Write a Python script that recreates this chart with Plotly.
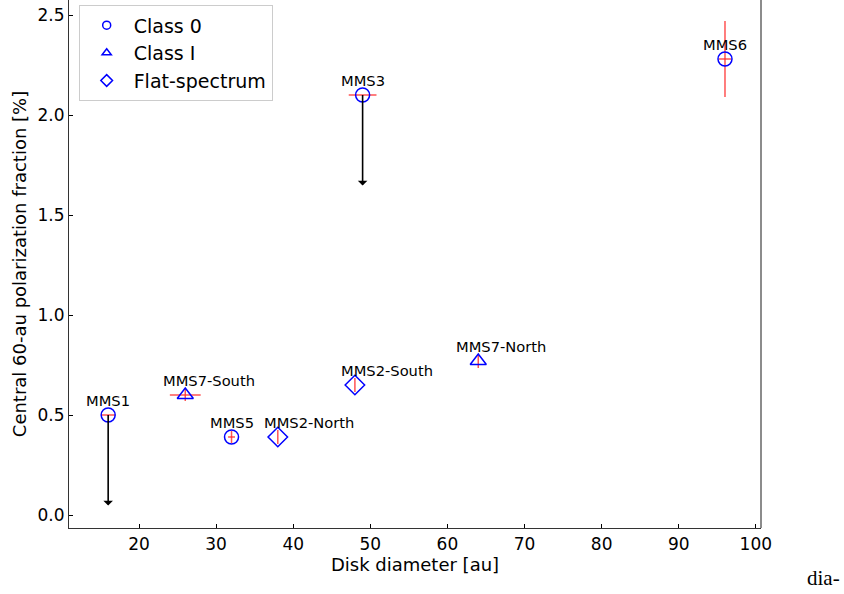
import plotly.graph_objects as go

# ---- data ----
names = ["MMS1", "MMS7-South", "MMS5", "MMS2-North", "MMS2-South", "MMS7-North", "MMS3", "MMS6"]
classes = ["Class 0", "Class I", "Class 0", "Flat-spectrum", "Flat-spectrum", "Class I", "Class 0", "Class 0"]
diameter = [16, 26, 32, 38, 48, 64, 49, 96]
diameter_err = [0.9, 2.0, 0.45, 0.0, 0.0, 0.0, 1.8, 0.8]
pol_frac = [0.50, 0.60, 0.39, 0.39, 0.65, 0.77, 2.10, 2.28]
pol_err = [0.0, 0.03, 0.03, 0.035, 0.035, 0.035, 0.0, 0.19]
upper_limit = [True, False, False, False, False, False, True, False]
label_xshift = [0, 24, 0, 31, 32, 23, 0, 0]

symbol_of = {"Class 0": "circle-open", "Class I": "triangle-up-open", "Flat-spectrum": "diamond-open"}
size_of = {"Class 0": 14, "Class I": 14, "Flat-spectrum": 15}
legend_size_of = {"Class 0": 8, "Class I": 8, "Flat-spectrum": 9}

fig = go.Figure()

for cls in ["Class 0", "Class I", "Flat-spectrum"]:
    idx = [i for i, c in enumerate(classes) if c == cls]
    fig.add_trace(go.Scatter(
        x=[diameter[i] for i in idx],
        y=[pol_frac[i] for i in idx],
        mode="markers",
        marker=dict(symbol=symbol_of[cls], size=size_of[cls], color="blue", line=dict(width=1.5, color="blue")),
        error_y=dict(type="data", array=[pol_err[i] for i in idx], color="rgba(255,40,40,0.8)", thickness=1.5, width=0),
        error_x=dict(type="data", array=[diameter_err[i] for i in idx], color="rgba(255,40,40,0.8)", thickness=1.5, width=0),
        showlegend=False,
        hoverinfo="skip",
    ))

# legend-only entries with small markers
for cls in ["Class 0", "Class I", "Flat-spectrum"]:
    fig.add_trace(go.Scatter(
        x=[None], y=[None], mode="markers", name=cls,
        marker=dict(symbol=symbol_of[cls], size=legend_size_of[cls], color="blue", line=dict(width=1.5, color="blue")),
    ))

# labels
for n, xv, yv, xs in zip(names, diameter, pol_frac, label_xshift):
    fig.add_annotation(x=xv, y=yv, text=n, showarrow=False, xshift=xs, yshift=15,
                       font=dict(family="DejaVu Sans", size=14.7, color="black"))

# upper-limit arrows
for xv, yv, ul in zip(diameter, pol_frac, upper_limit):
    if ul:
        fig.add_annotation(x=xv, y=yv, ax=0, ay=92, text="", showarrow=True,
                           arrowside="start", arrowhead=2, arrowsize=1.2, arrowwidth=1.6,
                           arrowcolor="black")

# right spine
fig.add_shape(type="line", xref="paper", yref="paper", x0=1, x1=1, y0=0, y1=1,
              line=dict(color="#666666", width=1.5))

fig.add_annotation(xref="paper", yref="paper", x=1.1165, y=-0.0947, xanchor="right", yanchor="middle",
                   text="dia-", showarrow=False,
                   font=dict(family="Liberation Serif", size=21, color="black"))

fig.update_layout(
    width=844, height=594,
    margin=dict(l=69, r=83, t=0, b=66),
    plot_bgcolor="white", paper_bgcolor="white",
    font=dict(family="DejaVu Sans", color="black"),
    xaxis=dict(range=[10.92, 100.67], tickvals=[20, 30, 40, 50, 60, 70, 80, 90, 100],
               ticks="inside", ticklen=4, tickcolor="black", showgrid=False, zeroline=False,
               showline=True, linecolor="#333333", linewidth=1.2,
               tickfont=dict(size=17), title=dict(text="Disk diameter [au]", font=dict(size=18), standoff=5)),
    yaxis=dict(range=[-0.065, 2.575], tickvals=[0, 0.5, 1.0, 1.5, 2.0, 2.5], tickformat=".1f",
               ticks="inside", ticklen=4, tickcolor="black", showgrid=False, zeroline=False,
               showline=True, linecolor="#333333", linewidth=1.2,
               tickfont=dict(size=17), title=dict(text="Central 60-au polarization fraction [%]", font=dict(size=18), standoff=6)),
    legend=dict(x=0.014, y=0.99, xanchor="left", yanchor="top", bgcolor="white",
                bordercolor="#cccccc", borderwidth=1, font=dict(size=19), itemwidth=44,
                tracegroupgap=0),
)

fig.write_html("out.html")
